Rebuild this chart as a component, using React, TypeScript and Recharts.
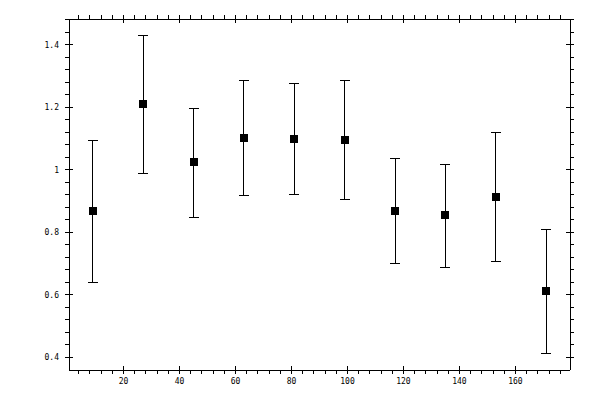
import { ScatterChart, Scatter, XAxis, YAxis, ErrorBar } from 'recharts';

const xValues = [9, 27, 45, 63, 81, 99, 117, 135, 153, 171];
const yValues = [0.868, 1.21, 1.025, 1.101, 1.098, 1.096, 0.868, 0.855, 0.913, 0.612];
const yHigh = [1.095, 1.431, 1.197, 1.286, 1.277, 1.287, 1.036, 1.018, 1.119, 0.81];
const yLow = [0.641, 0.989, 0.849, 0.917, 0.922, 0.906, 0.702, 0.689, 0.708, 0.413];

const xTicks = [
    4, 8, 12, 16, 20, 24, 28, 32, 36, 40, 44, 48, 52, 56, 60, 64, 68, 72, 76, 80, 84, 88,
    92, 96, 100, 104, 108, 112, 116, 120, 124, 128, 132, 136, 140, 144, 148, 152, 156, 160,
    164, 168, 172, 176,
];
const xMajor = [20, 40, 60, 80, 100, 120, 140, 160];
const yTicks = [
    0.4, 0.44, 0.48, 0.52, 0.56, 0.6, 0.64, 0.68, 0.72, 0.76, 0.8, 0.84, 0.88, 0.92, 0.96, 1,
    1.04, 1.08, 1.12, 1.16, 1.2, 1.24, 1.28, 1.32, 1.36, 1.4, 1.44, 1.48,
];
const yMajor = [0.4, 0.6, 0.8, 1, 1.2, 1.4];

const isMajor = (list: number[], v: number) => list.some((m) => Math.abs(m - v) < 1e-6);

const labelStyle = { fontFamily: '"DejaVu Sans Mono", monospace', fontSize: 8, fill: '#000' };

// side: which edge of the frame the tick belongs to
const makeTick = (side: 'bottom' | 'top' | 'left' | 'right') => (props: any) => {
    const { x, y, payload } = props;
    const v = payload.value;
    const vertical = side === 'bottom' || side === 'top';
    const major = isMajor(vertical ? xMajor : yMajor, v);
    const out = side === 'bottom' || side === 'right' ? 1 : -1;
    let line;
    if (vertical) {
        line = major ? (
            <line x1={x} x2={x} y1={y - 4} y2={y + 4} stroke="#000" />
        ) : (
            <line x1={x} x2={x} y1={y} y2={y + out * 4} stroke="#000" />
        );
    } else {
        line = major ? (
            <line x1={x - 4} x2={x + 4} y1={y} y2={y} stroke="#000" />
        ) : (
            <line x1={x} x2={x + out * 4} y1={y} y2={y} stroke="#000" />
        );
    }
    let label = null;
    if (major && side === 'bottom') {
        label = (
            <text x={x} y={y + 14} textAnchor="middle" {...labelStyle}>
                {v}
            </text>
        );
    }
    if (major && side === 'left') {
        label = (
            <text x={x - 10} y={y + 3} textAnchor="end" {...labelStyle}>
                {String(Math.round(v * 10) / 10)}
            </text>
        );
    }
    return (
        <g>
            {line}
            {label}
        </g>
    );
};

const SquareMarker = (props: any) => {
    const { cx, cy } = props;
    return <rect x={cx - 4} y={cy - 4} width={8} height={8} fill="#000" />;
};

export default function App() {
    const data = xValues.map((x, i) => ({
        x,
        y: yValues[i],
        err: [yValues[i] - yLow[i], yHigh[i] - yValues[i]],
    }));

    const xDomain = [0.5, 179.5];
    const yDomain = [0.36, 1.483];

    return (
        <div style={{ position: 'absolute', left: 0, top: 0, background: '#fff' }}>
            <style>{'svg line, svg path, svg rect { shape-rendering: crispEdges; }'}</style>
            <ScatterChart width={600} height={400} margin={{ top: 0, right: 0, bottom: 0, left: 0 }}>
                <XAxis
                    xAxisId="bottom"
                    dataKey="x"
                    type="number"
                    orientation="bottom"
                    domain={xDomain}
                    ticks={xTicks}
                    interval={0}
                    height={30}
                    tickSize={0}
                    tickMargin={0}
                    tickLine={false}
                    axisLine={{ stroke: '#000' }}
                    tick={makeTick('bottom')}
                    allowDataOverflow
                />
                <XAxis
                    xAxisId="top"
                    dataKey="x"
                    type="number"
                    orientation="top"
                    domain={xDomain}
                    ticks={xTicks}
                    interval={0}
                    height={19}
                    tickSize={0}
                    tickMargin={0}
                    tickLine={false}
                    axisLine={{ stroke: '#000' }}
                    tick={makeTick('top')}
                    allowDataOverflow
                />
                <YAxis
                    yAxisId="left"
                    dataKey="y"
                    type="number"
                    orientation="left"
                    domain={yDomain}
                    ticks={yTicks}
                    interval={0}
                    width={69}
                    tickSize={0}
                    tickMargin={0}
                    tickLine={false}
                    axisLine={{ stroke: '#000' }}
                    tick={makeTick('left')}
                    allowDataOverflow
                />
                <YAxis
                    yAxisId="right"
                    dataKey="y"
                    type="number"
                    orientation="right"
                    domain={yDomain}
                    ticks={yTicks}
                    interval={0}
                    width={30}
                    tickSize={0}
                    tickMargin={0}
                    tickLine={false}
                    axisLine={{ stroke: '#000' }}
                    tick={makeTick('right')}
                    allowDataOverflow
                />
                <Scatter
                    data={data}
                    xAxisId="bottom"
                    yAxisId="left"
                    shape={SquareMarker}
                    isAnimationActive={false}
                >
                    <ErrorBar dataKey="err" direction="y" width={5} stroke="#000" strokeWidth={1} isAnimationActive={false} />
                </Scatter>
            </ScatterChart>
        </div>
    );
}
